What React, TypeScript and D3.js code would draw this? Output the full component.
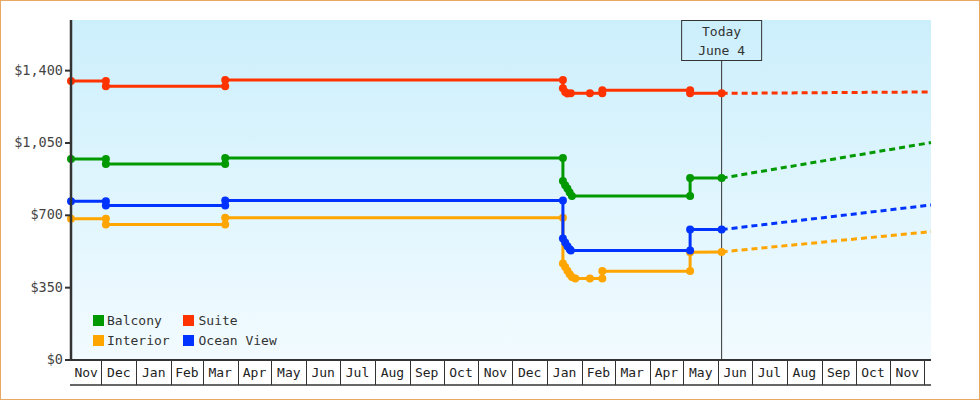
import React from 'react';
import * as d3 from 'd3';

// price observations per cabin type: [date, price]
const balcony: [string, number][] = [
  ['2022-11-04', 972], ['2022-12-05', 972], ['2022-12-05', 948], ['2023-03-21', 948],
  ['2023-03-21', 977], ['2024-01-15', 977], ['2024-01-15', 866], ['2024-01-17', 846],
  ['2024-01-19', 830], ['2024-01-21', 810], ['2024-01-23', 794], ['2024-05-07', 794],
  ['2024-05-07', 880], ['2024-06-04', 880],
];
const suite: [string, number][] = [
  ['2022-11-04', 1350], ['2022-12-05', 1350], ['2022-12-05', 1325], ['2023-03-21', 1325],
  ['2023-03-21', 1355], ['2024-01-15', 1355], ['2024-01-15', 1315], ['2024-01-17', 1297],
  ['2024-01-19', 1289], ['2024-01-22', 1291], ['2024-02-08', 1291], ['2024-02-19', 1291],
  ['2024-02-19', 1305], ['2024-05-07', 1305], ['2024-05-07', 1290], ['2024-06-04', 1290],
];
const interior: [string, number][] = [
  ['2022-11-04', 683], ['2022-12-05', 683], ['2022-12-05', 655], ['2023-03-21', 655],
  ['2023-03-21', 688], ['2024-01-15', 688], ['2024-01-15', 467], ['2024-01-17', 450],
  ['2024-01-19', 432], ['2024-01-21', 415], ['2024-01-23', 402], ['2024-01-26', 394],
  ['2024-02-08', 394], ['2024-02-19', 394], ['2024-02-19', 430], ['2024-05-07', 430],
  ['2024-05-07', 521], ['2024-06-04', 523],
];
const oceanView: [string, number][] = [
  ['2022-11-04', 768], ['2022-12-05', 768], ['2022-12-05', 747], ['2023-03-21', 747],
  ['2023-03-21', 772], ['2024-01-15', 772], ['2024-01-15', 588], ['2024-01-17', 568],
  ['2024-01-19', 550], ['2024-01-21', 536], ['2024-01-22', 530], ['2024-05-07', 530],
  ['2024-05-07', 631], ['2024-06-04', 631],
];

// projected prices: [today, end of range]
const forecastDates = ['2024-06-04', '2024-12-07'];
const balconyForecast = [880, 1052];
const suiteForecast = [1290, 1297];
const interiorForecast = [523, 621];
const oceanViewForecast = [631, 750];

const yTicks = [0, 350, 700, 1050, 1400];
const todayDate = '2024-06-04';
const todayLabel = ['Today', 'June 4'];

const series = [
  { name: 'Interior', color: '#ffa500', data: interior, forecast: interiorForecast },
  { name: 'Ocean View', color: '#0033ff', data: oceanView, forecast: oceanViewForecast },
  { name: 'Balcony', color: '#009900', data: balcony, forecast: balconyForecast },
  { name: 'Suite', color: '#ff3300', data: suite, forecast: suiteForecast },
];
const legendOrder = ['Balcony', 'Suite', 'Interior', 'Ocean View'];

const parse = d3.timeParse('%Y-%m-%d');
const FONT = '"DejaVu Sans Mono", monospace';

const App: React.FC = () => {
  const width = 980;
  const height = 400;
  const left = 71, right = 931, top = 20, bottom = 360;

  const d0 = parse('2022-11-04')!;
  const d1 = parse('2024-12-07')!;
  const x = d3.scaleTime().domain([d0, d1]).range([left, right]);
  const y = d3.scaleLinear().domain([0, 1645]).range([bottom, top]);

  const line = d3.line<[string, number]>()
    .x(d => x(parse(d[0])!))
    .y(d => y(d[1]));

  const months = d3.timeMonth.range(d0, d1);
  const bounds = [d0, ...months, d1];
  const fmtMonth = d3.timeFormat('%b');
  const fmtMoney = (v: number) => '$' + d3.format(',')(v);

  const tx = x(parse(todayDate)!);

  return (
    <div style={{ position: 'absolute', left: 0, top: 0 }}>
      <svg width={width} height={height} style={{ display: 'block' }}>
        <defs>
          <linearGradient id="bg" x1="0" y1="0" x2="0" y2="1">
            <stop offset="0%" stopColor="#ccefFC" />
            <stop offset="100%" stopColor="#f2fbff" />
          </linearGradient>
        </defs>
        <rect x={0} y={0} width={width} height={height} fill="#fff" />
        <rect x={left} y={top} width={right - left} height={bottom - top} fill="url(#bg)" />

        {/* today marker */}
        <line x1={tx} x2={tx} y1={top + 40} y2={bottom} stroke="#333" strokeWidth={1} />
        <rect x={tx - 40} y={top + 0.5} width={80} height={40} fill="none" stroke="#333" strokeWidth={1} />
        {todayLabel.map((t, i) => (
          <text key={t} x={tx} y={top + 12 + i * 19} textAnchor="middle" dominantBaseline="middle"
            fontFamily={FONT} fontSize={13} fill="#333">{t}</text>
        ))}

        {/* forecasts */}
        {series.map(s => (
          <path key={s.name + 'f'}
            d={d3.line<number>().x((_, i) => x(parse(forecastDates[i])!)).y(v => y(v))(s.forecast) || ''}
            fill="none" stroke={s.color} strokeWidth={3} strokeDasharray="6,4" />
        ))}

        {/* observed prices */}
        {series.map(s => (
          <g key={s.name}>
            <path d={line(s.data) || ''} fill="none" stroke={s.color} strokeWidth={3} strokeLinejoin="round" />
            {s.data.map((d, i) => (
              <circle key={i} cx={x(parse(d[0])!)} cy={y(d[1])} r={4} fill={s.color} />
            ))}
          </g>
        ))}

        {/* y axis */}
        <line x1={left} x2={left} y1={top} y2={bottom + 1} stroke="#333" strokeWidth={2.5} />
        {yTicks.map(t => (
          <g key={t}>
            <line x1={left - 6} x2={left} y1={y(t)} y2={y(t)} stroke="#333" strokeWidth={2} />
            <text x={left - 8} y={y(t)} textAnchor="end" dominantBaseline="middle"
              fontFamily={FONT} fontSize={13.5} fill="#444">{fmtMoney(t)}</text>
          </g>
        ))}

        {/* x axis with month boxes */}
        <line x1={left - 1} x2={right} y1={bottom} y2={bottom} stroke="#333" strokeWidth={2} />
        <line x1={left - 1} x2={right} y1={bottom + 25} y2={bottom + 25} stroke="#333" strokeWidth={1.5} />
        {months.map(m => (
          <line key={+m} x1={Math.round(x(m)) + 0.5} x2={Math.round(x(m)) + 0.5} y1={bottom} y2={bottom + 25}
            stroke="#333" strokeWidth={1} />
        ))}
        {bounds.slice(0, -1).map((b, i) => {
          const xa = x(b), xb = x(bounds[i + 1]);
          if (xb - xa < 20) return null;
          return (
            <text key={+b} x={(xa + xb) / 2} y={bottom + 13.5} textAnchor="middle" dominantBaseline="middle"
              fontFamily={FONT} fontSize={13} fill="#222">{fmtMonth(b)}</text>
          );
        })}

        {/* legend */}
        {legendOrder.map((name, i) => {
          const s = series.find(d => d.name === name)!;
          const lx = 93 + (i % 2) * 90;
          const ly = 315 + Math.floor(i / 2) * 20;
          return (
            <g key={name}>
              <rect x={lx} y={ly} width={11} height={11} fill={s.color} />
              <text x={lx + 14 + (i % 2) * 1.5} y={ly + 6} dominantBaseline="middle"
                fontFamily={FONT} fontSize={13} fill="#333">{name}</text>
            </g>
          );
        })}

        <rect x={0.5} y={0.5} width={width - 1} height={height - 1} fill="none" stroke="#e8a862" strokeWidth={1} />
      </svg>
    </div>
  );
};

export default App;
